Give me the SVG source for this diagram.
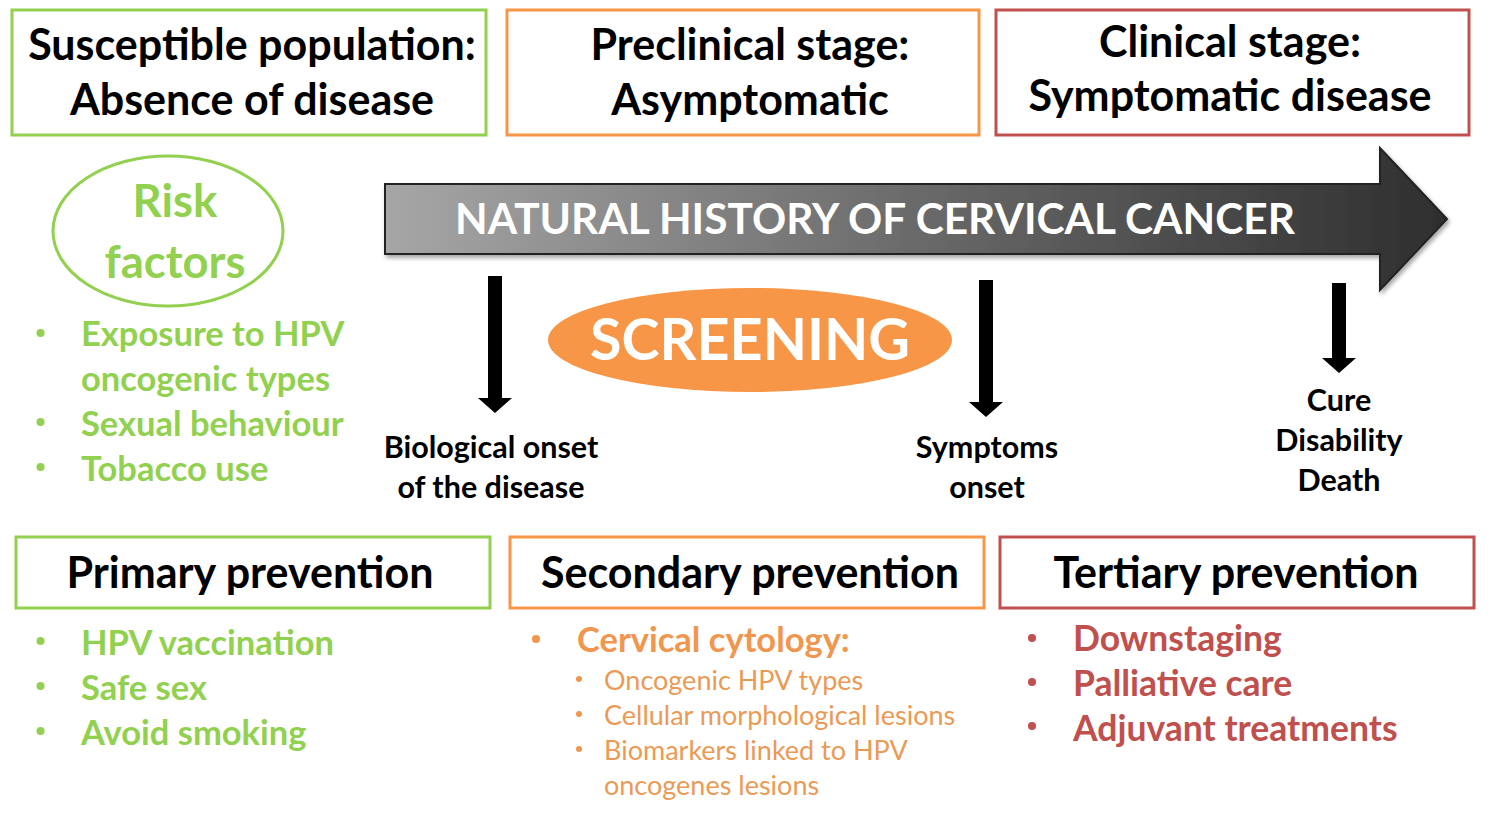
<svg xmlns="http://www.w3.org/2000/svg" width="1495" height="820" viewBox="0 0 1495 820">
<defs>
<linearGradient id="g" x1="0" y1="0" x2="1" y2="0">
<stop offset="0" stop-color="#a6a6a6"/>
<stop offset="0.5" stop-color="#6a6a6a"/>
<stop offset="1" stop-color="#2e2e2e"/>
</linearGradient>
<filter id="sh" x="-5%" y="-20%" width="110%" height="140%">
<feDropShadow dx="2" dy="3" stdDeviation="2" flood-color="#000" flood-opacity="0.35"/>
</filter>
</defs>
<style>
text{font-family:Lato,"Open Sans",sans-serif;font-weight:bold}
.box{fill:#fff;stroke-width:3}
.gr{stroke:#92d050}
.or{stroke:#f79646}
.rd{stroke:#c0504d}
.h{font-size:43px;fill:#000;text-anchor:middle}
.lb{font-size:30.5px;fill:#000;text-anchor:middle}
.gt{font-size:34.5px;fill:#92d050}
.ot{font-size:34.5px;fill:#f0964e}
.os{font-size:27px;fill:#eb9a55;font-weight:normal}
.rt{font-size:35.5px;fill:#c0504d}
.gb{fill:#92d050}
.ob{fill:#f0964e}
.rb{fill:#c0504d}
.arr{fill:#000}
</style>
<rect width="1495" height="820" fill="#fff"/>
<g id="susceptible">
<rect class="box gr" x="12" y="10" width="474" height="125"/>
<text class="h" x="252" y="60">Susceptible population:</text>
<text class="h" x="252" y="115">Absence of disease</text>
</g>
<g id="preclinical">
<rect class="box or" x="507" y="10" width="472" height="125"/>
<text class="h" x="750" y="60">Preclinical stage:</text>
<text class="h" x="750" y="115">Asymptomatic</text>
</g>
<g id="clinical">
<rect class="box rd" x="996" y="10" width="473" height="125"/>
<text class="h" x="1230" y="57">Clinical stage:</text>
<text class="h" x="1230" y="111">Symptomatic disease</text>
</g>
<g id="timeline">
<path d="M385,184 L1380,184 L1380,148 L1447,219 L1380,290 L1380,254 L385,254 Z" fill="url(#g)" stroke="#222" stroke-width="2" filter="url(#sh)"/>
<text x="875" y="234" font-size="42" fill="#fff" text-anchor="middle" textLength="840" lengthAdjust="spacingAndGlyphs">NATURAL HISTORY OF CERVICAL CANCER</text>
</g>
<g id="risk-factors">
<ellipse cx="168" cy="231" rx="115" ry="75" fill="#fff" stroke="#92d050" stroke-width="3"/>
<text x="175" y="217" font-size="45.5" fill="#92d050" text-anchor="middle">Risk</text>
<text x="175" y="278" font-size="45.5" fill="#92d050" text-anchor="middle">factors</text>
<circle class="gb" cx="40.5" cy="333" r="4"/><text class="gt" x="81" y="346">Exposure to HPV</text>
<text class="gt" x="81" y="391">oncogenic types</text>
<circle class="gb" cx="40.5" cy="422" r="4"/><text class="gt" x="81" y="436">Sexual behaviour</text>
<circle class="gb" cx="40.5" cy="467" r="4"/><text class="gt" x="81" y="481">Tobacco use</text>
</g>
<g id="screening">
<ellipse cx="750" cy="340" rx="202" ry="52" fill="#f79646"/>
<text x="750" y="360" font-size="57.5" fill="#fff" text-anchor="middle">SCREENING</text>
</g>
<g id="connectors">
<path class="arr" d="M488,276 H502 V398 H512 L495,413 L478,398 H488 Z"/>
<path class="arr" d="M979,280 H993 V402 H1003 L986,417 L969,402 H979 Z"/>
<path class="arr" d="M1332,283 H1346 V358 H1356 L1339,373 L1322,358 H1332 Z"/>
</g>
<g id="biological-onset">
<text class="lb" x="491" y="458">Biological onset</text>
<text class="lb" x="491" y="498">of the disease</text>
</g>
<g id="symptoms-onset">
<text class="lb" x="987" y="458">Symptoms</text>
<text class="lb" x="987" y="498">onset</text>
</g>
<g id="outcomes">
<text class="lb" x="1339" y="411">Cure</text>
<text class="lb" x="1339" y="451">Disability</text>
<text class="lb" x="1339" y="491">Death</text>
</g>
<g id="primary">
<rect class="box gr" x="16" y="537" width="474" height="71"/>
<text class="h" x="250" y="588">Primary prevention</text>
<circle class="gb" cx="40.5" cy="641" r="4"/><text class="gt" x="81" y="655">HPV vaccination</text>
<circle class="gb" cx="40.5" cy="686" r="4"/><text class="gt" x="81" y="700">Safe sex</text>
<circle class="gb" cx="40.5" cy="731" r="4"/><text class="gt" x="81" y="745">Avoid smoking</text>
</g>
<g id="secondary">
<rect class="box or" x="510" y="537" width="474" height="71"/>
<text class="h" x="750" y="588">Secondary prevention</text>
<circle class="ob" cx="536" cy="639" r="4"/><text class="ot" x="577" y="652">Cervical cytology:</text>
<circle class="ob" cx="579" cy="679" r="3"/><text class="os" x="604" y="690">Oncogenic HPV types</text>
<circle class="ob" cx="579" cy="714" r="3"/><text class="os" x="604" y="725">Cellular morphological lesions</text>
<circle class="ob" cx="579" cy="749" r="3"/><text class="os" x="604" y="760">Biomarkers linked to HPV</text>
<text class="os" x="604" y="795">oncogenes lesions</text>
</g>
<g id="tertiary">
<rect class="box rd" x="1000" y="537" width="474" height="71"/>
<text class="h" x="1236" y="588">Tertiary prevention</text>
<circle class="rb" cx="1032" cy="638" r="4"/><text class="rt" x="1073" y="651">Downstaging</text>
<circle class="rb" cx="1032" cy="682" r="4"/><text class="rt" x="1073" y="696">Palliative care</text>
<circle class="rb" cx="1032" cy="726" r="4"/><text class="rt" x="1073" y="741">Adjuvant treatments</text>
</g>
</svg>
